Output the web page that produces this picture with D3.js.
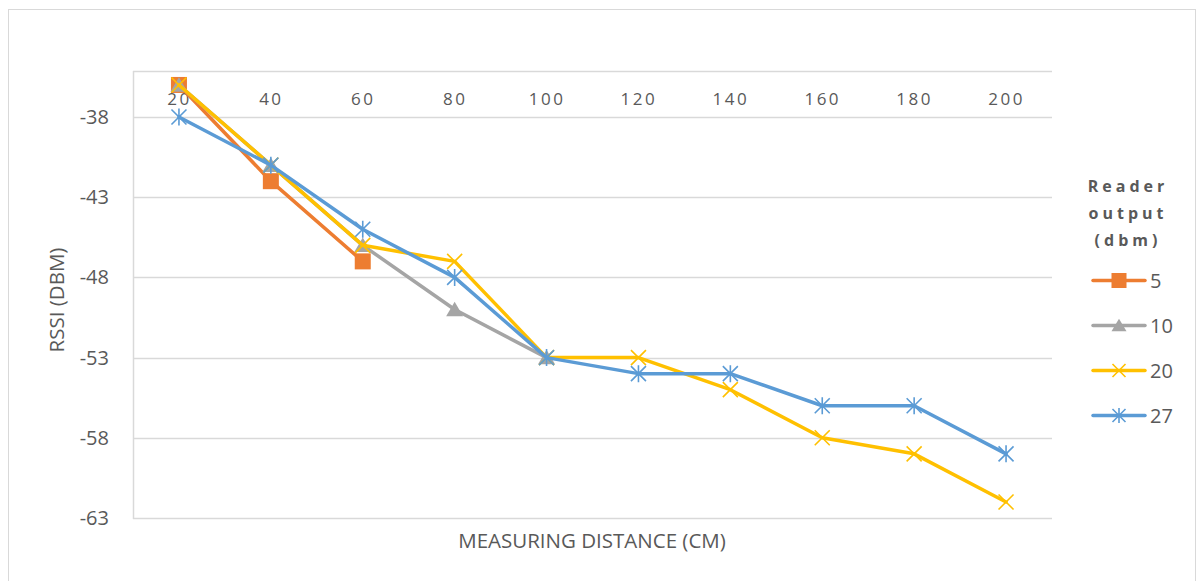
<!DOCTYPE html>
<html>
<head>
<meta charset="utf-8">
<script src="https://cdn.jsdelivr.net/npm/d3@7"></script>
<style>
  html, body { margin: 0; padding: 0; background: #fff; }
  svg { display: block; font-family: "Open Sans", "Liberation Sans", sans-serif; }
</style>
</head>
<body>
<svg id="chart" width="1196" height="581"></svg>
<script>
// Measuring distance (cm)
const distances = [20, 40, 60, 80, 100, 120, 140, 160, 180, 200];
// RSSI (dBm) per reader output power; null where no reading was taken
const rssi5  = [-36, -42, -47, null, null, null, null, null, null, null];
const rssi10 = [-36, -41, -46, -50, -53, null, null, null, null, null];
const rssi20 = [-36, -41, -46, -47, -53, -53, -55, -58, -59, -62];
const rssi27 = [-38, -41, -45, -48, -53, -54, -54, -56, -56, -59];
const seriesNames = ["5", "10", "20", "27"];
const yTicks = [-38, -43, -48, -53, -58, -63];

const colors = ["#ED7D31", "#A5A5A5", "#FFC000", "#5B9BD5"];
const markers = ["square", "triangle", "cross", "star"];
const seriesValues = [rssi5, rssi10, rssi20, rssi27];

const FONT = "'Open Sans', 'Liberation Sans', sans-serif";
const TEXT = "#595959";

const svg = d3.select("#chart");
const W = 1196, H = 581;
const plot = { left: 133, right: 1052, top: 71, bottom: 518 };

// outer chart frame
svg.append("rect")
  .attr("x", 8.5).attr("y", 9.5).attr("width", W - 9).attr("height", H - 9)
  .attr("fill", "#fff").attr("stroke", "#D9D9D9").attr("stroke-width", 1);

const x = d3.scalePoint().domain(distances).range([plot.left, plot.right]).padding(0.5);
const y = d3.scaleLinear().domain([-63, -35.13]).range([plot.bottom, plot.top]);

// horizontal gridlines
svg.append("g").selectAll("line").data(yTicks).join("line")
  .attr("x1", plot.left).attr("x2", plot.right)
  .attr("y1", d => Math.round(y(d)) + 0.5).attr("y2", d => Math.round(y(d)) + 0.5)
  .attr("stroke", "#D9D9D9").attr("stroke-width", 1.5);

// plot area border (top and left)
svg.append("line").attr("x1", plot.left).attr("x2", plot.right)
  .attr("y1", plot.top + 0.5).attr("y2", plot.top + 0.5)
  .attr("stroke", "#D9D9D9").attr("stroke-width", 1.5);
svg.append("line").attr("x1", plot.left + 0.5).attr("x2", plot.left + 0.5)
  .attr("y1", plot.top).attr("y2", plot.bottom + 1)
  .attr("stroke", "#D9D9D9").attr("stroke-width", 1.5);

// y axis labels
const yAxis = d3.axisLeft(y).tickValues(yTicks).tickSize(0).tickPadding(0).tickFormat(d => String(d));
const gy = svg.append("g").attr("transform", `translate(${plot.left - 24},0)`).call(yAxis);
gy.select(".domain").remove();
gy.selectAll("text").attr("fill", TEXT).style("font-size", "20px").style("font-family", FONT);

// category labels sit at the top of the plot
const xAxis = d3.axisBottom(x).tickSize(0).tickPadding(0);
const gx = svg.append("g").attr("transform", `translate(0,${plot.top + 22})`).call(xAxis);
gx.select(".domain").remove();
gx.selectAll("text").attr("fill", TEXT).style("font-size", "17px")
  .style("letter-spacing", "2.5px").style("font-family", FONT);

// axis titles
svg.append("text").attr("x", 592).attr("y", 548).attr("text-anchor", "middle")
  .attr("fill", TEXT).style("font-size", "20.5px").text("MEASURING DISTANCE (CM)");
svg.append("text").attr("transform", "translate(64,300) rotate(-90)").attr("text-anchor", "middle")
  .attr("fill", TEXT).style("font-size", "20.5px").text("RSSI (DBM)");

// marker drawing
function drawMarker(g, type, color, cx, cy, s) {
  if (type === "square") {
    g.append("rect").attr("x", cx - s / 2).attr("y", cy - s / 2).attr("width", s).attr("height", s).attr("fill", color);
  } else if (type === "triangle") {
    const h = s * 0.9;
    g.append("path").attr("d", `M${cx},${cy - h / 2 - 1}L${cx + s / 2 + 1},${cy + h / 2}L${cx - s / 2 - 1},${cy + h / 2}Z`).attr("fill", color);
  } else if (type === "cross") {
    const r = s / 2;
    g.append("path").attr("d", `M${cx - r},${cy - r}L${cx + r},${cy + r}M${cx - r},${cy + r}L${cx + r},${cy - r}`)
      .attr("stroke", color).attr("stroke-width", 1.6).attr("fill", "none");
  } else if (type === "star") {
    const r = s / 2;
    g.append("path").attr("d", `M${cx - r},${cy - r}L${cx + r},${cy + r}M${cx - r},${cy + r}L${cx + r},${cy - r}M${cx},${cy - r - 1}L${cx},${cy + r + 1}`)
      .attr("stroke", color).attr("stroke-width", 1.6).attr("fill", "none");
  }
}

const line = d3.line().defined(d => d.v !== null).x(d => x(d.d)).y(d => y(d.v));

seriesValues.forEach((vals, i) => {
  const pts = distances.map((d, j) => ({ d, v: vals[j] }));
  const g = svg.append("g");
  g.append("path").datum(pts).attr("d", line)
    .attr("fill", "none").attr("stroke", colors[i]).attr("stroke-width", 3.5)
    .attr("stroke-linejoin", "round").attr("stroke-linecap", "round");
  pts.filter(p => p.v !== null).forEach(p => {
    drawMarker(g, markers[i], colors[i], x(p.d), y(p.v), markers[i] === "square" ? 16 : 15);
  });
});

// legend
const legendTitle = ["Reader", "output", "(dbm)"];
svg.append("g").selectAll("text").data(legendTitle).join("text")
  .attr("x", 1128).attr("y", (d, i) => 192 + i * 27)
  .attr("text-anchor", "middle").attr("fill", TEXT)
  .style("font-size", "16px").style("font-weight", "bold").style("letter-spacing", "4px")
  .text(d => d);

seriesNames.forEach((name, i) => {
  const ly = 280.5 + i * 45;
  const g = svg.append("g");
  g.append("line").attr("x1", 1093).attr("x2", 1145).attr("y1", ly).attr("y2", ly)
    .attr("stroke", colors[i]).attr("stroke-width", 3.5).attr("stroke-linecap", "round");
  drawMarker(g, markers[i], colors[i], 1119, ly, markers[i] === "square" ? 15 : 13);
  g.append("text").attr("x", 1150).attr("y", ly + 7.5).attr("fill", TEXT)
    .style("font-size", "20px").text(name);
});
</script>
</body>
</html>
